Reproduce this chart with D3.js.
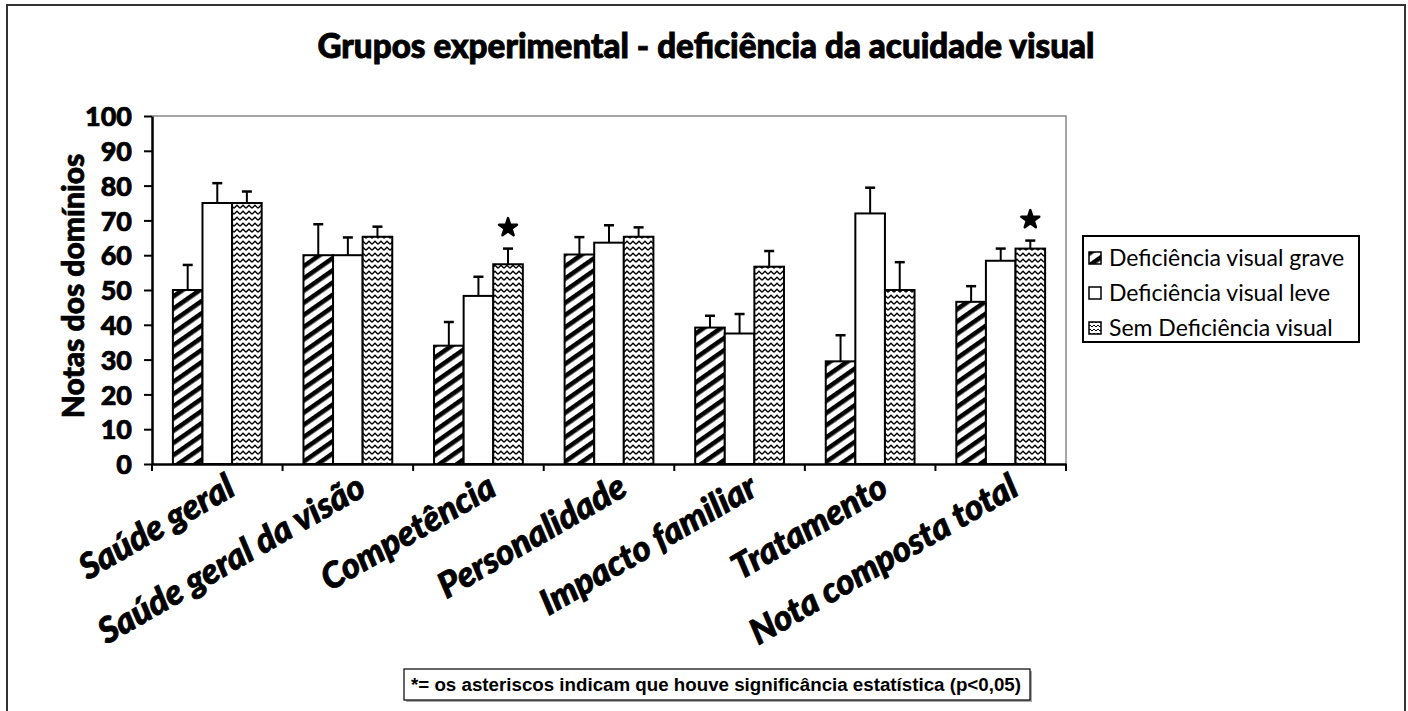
<!DOCTYPE html>
<html><head><meta charset="utf-8">
<script src="https://cdn.jsdelivr.net/npm/d3@7"></script>
<style>
html,body{margin:0;padding:0;background:#fff;}
svg{display:block;}
</style></head>
<body>
<svg id="chart" width="1408" height="711"></svg>
<script>
const categories = ["Saúde geral","Saúde geral da visão","Competência","Personalidade","Impacto familiar","Tratamento","Nota composta total"];
const seriesNames = ["Deficiência visual grave","Deficiência visual leve","Sem Deficiência visual"];
const grave = [50, 60, 34, 60.2, 39.2, 29.5, 46.6];
const leve  = [75, 60, 48.3, 63.6, 37.5, 72, 58.4];
const sem   = [75, 65.3, 57.4, 65.3, 56.7, 50, 61.9];
const graveErr = [7.2, 8.9, 6.8, 5.0, 3.4, 7.5, 4.5];
const leveErr  = [5.7, 5.1, 5.5, 5.0, 5.6, 7.4, 3.5];
const semErr   = [3.3, 2.9, 4.5, 2.7, 4.5, 8.0, 2.3];
const significant = ["Competência","Nota composta total"]; // on "Sem Deficiência visual"
const yTicks = [0,10,20,30,40,50,60,70,80,90,100];
const titleText = "Grupos experimental - deficiência da acuidade visual";
const yLabel = "Notas dos domínios";
const footnote = "*= os asteriscos indicam que houve significância estatística (p<0,05)";

const values = [grave, leve, sem];
const errs = [graveErr, leveErr, semErr];
const fills = ["url(#hatch)", "#fff", "url(#wavy)"];

const svg = d3.select("#chart");
const defs = svg.append("defs");
const ph = defs.append("pattern").attr("id","hatch").attr("patternUnits","userSpaceOnUse")
  .attr("width",10).attr("height",10).attr("patternTransform","rotate(-35)");
ph.append("rect").attr("width",10).attr("height",10).attr("fill","#fff");
ph.append("rect").attr("width",10).attr("height",4.6).attr("fill","#000");
const pw = defs.append("pattern").attr("id","wavy").attr("patternUnits","userSpaceOnUse")
  .attr("width",6).attr("height",6);
pw.append("rect").attr("width",6).attr("height",6).attr("fill","#fff");
pw.append("path").attr("d","M0,4.3 L3,1.3 L6,4.3").attr("fill","none").attr("stroke","#000").attr("stroke-width",1.4);
const pws = defs.append("pattern").attr("id","wavysm").attr("patternUnits","userSpaceOnUse")
  .attr("width",4).attr("height",4);
pws.append("rect").attr("width",4).attr("height",4).attr("fill","#fff");
pws.append("path").attr("d","M0,3 L2,1 L4,3").attr("fill","none").attr("stroke","#000").attr("stroke-width",1);

// outer frame
svg.append("path").attr("d","M7,720 L7,5 L1405,5 L1405,720").attr("fill","none").attr("stroke","#333").attr("stroke-width",2);

const heavy = "Lato, 'Open Sans', sans-serif";
// title
svg.append("text").attr("x",706).attr("y",58).attr("text-anchor","middle")
  .attr("font-family",heavy).attr("font-weight",900).attr("font-size",34)
  .attr("stroke","#000").attr("stroke-width",0.9)
  .attr("textLength",777).attr("lengthAdjust","spacingAndGlyphs")
  .text(titleText);

const L = 152, R = 1066, T = 116, B = 464;
const x0 = d3.scaleBand().domain(categories).range([L,R]).paddingInner(0.32).paddingOuter(0.16);
const x1 = d3.scaleBand().domain(seriesNames).range([0,x0.bandwidth()]).padding(0);
const y = d3.scaleLinear().domain([0,100]).range([B,T]);

// plot border top/right
svg.append("path").attr("d",`M${L},${T} L${R},${T} L${R},${B}`).attr("fill","none").attr("stroke","#888").attr("stroke-width",1.5);

// bars
const g = svg.append("g");
seriesNames.forEach((s,si)=>{
  g.selectAll(null).data(categories).enter().append("rect")
    .attr("x",c=>x0(c)+x1(s))
    .attr("y",(c,i)=>y(values[si][i]))
    .attr("width",x1.bandwidth())
    .attr("height",(c,i)=>y(0)-y(values[si][i]))
    .attr("fill",fills[si]).attr("stroke","#000").attr("stroke-width",2);
});
// error bars
seriesNames.forEach((s,si)=>{
  categories.forEach((c,i)=>{
    const cx = x0(c)+x1(s)+x1.bandwidth()/2;
    const yt = y(values[si][i]+errs[si][i]);
    g.append("line").attr("x1",cx).attr("x2",cx).attr("y1",y(values[si][i])).attr("y2",yt).attr("stroke","#000").attr("stroke-width",2);
    g.append("line").attr("x1",cx-5).attr("x2",cx+5).attr("y1",yt).attr("y2",yt).attr("stroke","#000").attr("stroke-width",2.5);
  });
});
// stars
significant.forEach(c=>{
  const i = categories.indexOf(c);
  const s = seriesNames[2];
  const cx = x0(c)+x1(s)+x1.bandwidth()/2;
  const yt = y(sem[i]+semErr[i]);
  g.append("path").attr("d",d3.symbol(d3.symbolStar).size(100)())
    .attr("transform",`translate(${cx},${yt-21})`).attr("fill","#000").attr("stroke","#000").attr("stroke-width",2.5).attr("stroke-linejoin","round");
});

// y axis
const ya = svg.append("g").attr("transform",`translate(${L},0)`)
  .call(d3.axisLeft(y).tickValues(yTicks).tickSize(8).tickPadding(12).tickSizeOuter(0));
ya.select(".domain").attr("stroke","#000").attr("stroke-width",2.5);
ya.selectAll(".tick line").attr("stroke","#000").attr("stroke-width",2);
ya.selectAll(".tick text").attr("font-family",heavy).attr("font-weight",900).attr("font-size",27).attr("fill","#000")
  .attr("stroke","#000").attr("stroke-width",0.7).attr("dy","0.36em");

// x axis
const xa = svg.append("g").attr("transform",`translate(0,${B})`)
  .call(d3.axisBottom(x0).tickSize(0).tickFormat(""));
xa.select(".domain").attr("stroke","#000").attr("stroke-width",2.5);
xa.selectAll(".tick").remove();
const bounds = [L].concat(categories.map(c=>x0(c)+x0.bandwidth()+x0.step()*x0.paddingInner()/2));
bounds.forEach(bx=>{
  xa.append("line").attr("x1",bx).attr("x2",bx).attr("y1",0).attr("y2",7).attr("stroke","#000").attr("stroke-width",2);
});
categories.forEach(c=>{
  const cx = x0(c)+x0.bandwidth()/2 + 20;
  svg.append("text").attr("transform",`translate(${cx},${B+30}) rotate(-30)`)
    .attr("text-anchor","end").attr("font-family",heavy).attr("font-weight",900).attr("font-style","italic")
    .attr("stroke","#000").attr("stroke-width",0.8)
    .attr("font-size",35).text(c);
});

// y label
svg.append("text").attr("transform",`translate(84,${(T+B)/2 - 4}) rotate(-90)`).attr("text-anchor","middle")
  .attr("font-family",heavy).attr("font-weight",900).attr("font-size",30)
  .attr("stroke","#000").attr("stroke-width",0.7).text(yLabel);

// legend
const lg = svg.append("g");
lg.append("rect").attr("x",1083).attr("y",236).attr("width",276).attr("height",106).attr("fill","#fff").attr("stroke","#000").attr("stroke-width",2);
const legFills = ["url(#hatch)","#fff","url(#wavysm)"];
seriesNames.forEach((s,i)=>{
  const yy = 258 + i*35;
  lg.append("rect").attr("x",1089).attr("y",yy-6).attr("width",12).attr("height",12).attr("fill",legFills[i]).attr("stroke","#000").attr("stroke-width",1.5);
  lg.append("text").attr("x",1109).attr("y",yy).attr("dy","0.35em").attr("font-family","Lato, sans-serif").attr("font-size",23).text(s);
});

// footnote
svg.append("rect").attr("x",406).attr("y",671).attr("width",626).attr("height",31).attr("fill","#aaa");
svg.append("rect").attr("x",404).attr("y",669).attr("width",626).attr("height",31).attr("fill","#fff").attr("stroke","#000").attr("stroke-width",1.2);
svg.append("text").attr("x",716).attr("y",685).attr("dy","0.36em").attr("text-anchor","middle")
  .attr("font-family","'Liberation Sans', Arial, sans-serif").attr("font-weight","bold").attr("font-size",18)
  .attr("textLength",610).attr("lengthAdjust","spacingAndGlyphs").text(footnote);
</script>
</body></html>
